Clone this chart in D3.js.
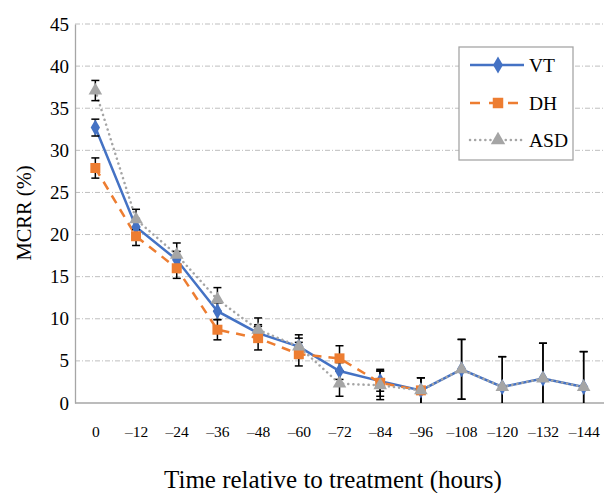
<!DOCTYPE html>
<html>
<head>
<meta charset="utf-8">
<script src="https://cdn.jsdelivr.net/npm/d3@7"></script>
<style>
  body { margin: 0; background: #fff; }
  text { font-family: "Liberation Serif", "DejaVu Serif", serif; fill: #000; }
</style>
</head>
<body>
<div id="chart"></div>
<script>
var categories = ["0","–12","–24","–36","–48","–60","–72","–84","–96","–108","–120","–132","–144"];
var series = ["VT","DH","ASD"];

var vt    = [32.7, 20.9, 17.0, 10.9, 8.3, 6.7, 3.8, 2.6, 1.5, 4.0, 1.9, 2.9, 1.9];
var vtErr = [1.0, 1.0, 1.0, 1.0, 1.0, 1.0, 1.0, 1.2, 1.5, 3.55, 3.6, 4.2, 4.2];
var dh    = [27.9, 19.8, 16.0, 8.7, 7.7, 5.8, 5.3, 2.4, 1.5];
var dhErr = [1.2, 1.1, 1.2, 1.2, 1.4, 1.4, 1.5, 1.6, 1.5];
var asd   = [37.1, 21.8, 17.6, 12.3, 8.7, 6.7, 2.3, 2.1, 1.5, 4.0, 1.9, 2.9, 1.9];
var asdErr = [1.2, 1.2, 1.4, 1.4, 1.4, 1.4, 1.5, 1.7, 1.5, 3.55, 3.6, 4.2, 4.2];

var yTicks = [0, 5, 10, 15, 20, 25, 30, 35, 40, 45];

var width = 604, height = 493;
var plotLeft = 75, plotRight = 604, plotTop = 24, plotBottom = 403;

var svg = d3.select("#chart").append("svg")
    .attr("width", width)
    .attr("height", height)

var x = d3.scalePoint().domain(categories).range([plotLeft, plotRight]).padding(0.5)
var y = d3.scaleLinear().domain([0, 45]).range([plotBottom, plotTop])

var color = d3.scaleOrdinal().domain(series).range(["#4472C4","#ED7D31","#A5A5A5"])

// gridlines
svg.selectAll(".grid")
    .data(yTicks.filter(function(d){ return d > 0 }))
    .enter()
    .append("line")
    .attr("x1", plotLeft)
    .attr("x2", plotRight)
    .attr("y1", function(d){ return y(d) })
    .attr("y2", function(d){ return y(d) })
    .style("stroke", "#bfbfbf")
    .style("stroke-width", 1)
    .style("stroke-dasharray", "5,2,1,2")

// axes
var yAxis = svg.append("g")
    .attr("transform", "translate(" + plotLeft + ",0)")
    .call(d3.axisLeft(y).tickValues(yTicks).tickSize(0).tickPadding(6))
yAxis.select(".domain").style("stroke", "#a6a6a6").style("stroke-width", 1.3)
yAxis.selectAll("text").style("font-size", "19px")

var xAxis = svg.append("g")
    .attr("transform", "translate(0," + plotBottom + ")")
    .call(d3.axisBottom(x).tickSize(0).tickPadding(23))
xAxis.select(".domain").remove()
xAxis.selectAll("text").style("font-size", "15.5px")

// series data
var data = [
  { name: "VT", values: vt, err: vtErr },
  { name: "DH", values: dh, err: dhErr },
  { name: "ASD", values: asd, err: asdErr }
]

var line = d3.line()
    .x(function(d, i){ return x(categories[i]) })
    .y(function(d){ return y(d) })

var dashes = { VT: null, DH: "9,7", ASD: "0.1,5" }

svg.selectAll(".series")
    .data(data)
    .enter()
    .append("path")
    .attr("d", function(d){ return line(d.values) })
    .style("fill", "none")
    .style("stroke", function(d){ return color(d.name) })
    .style("stroke-width", 2.5)
    .style("stroke-linecap", function(d){ return d.name == "ASD" ? "round" : "butt" })
    .style("stroke-dasharray", function(d){ return dashes[d.name] })

// x axis line drawn after the lines
svg.append("line")
    .attr("x1", plotLeft).attr("x2", plotRight)
    .attr("y1", plotBottom).attr("y2", plotBottom)
    .style("stroke", "#a6a6a6")
    .style("stroke-width", 1.3)

// error bars
data.forEach(function(s){
  var g = svg.append("g")
  s.values.forEach(function(v, i){
    var cx = x(categories[i])
    var hi = y(v + s.err[i])
    var lo = y(Math.max(0, v - s.err[i]))
    g.append("line").attr("x1", cx).attr("x2", cx).attr("y1", hi).attr("y2", lo)
      .style("stroke", "#000").style("stroke-width", 1.5)
    g.append("line").attr("x1", cx - 4).attr("x2", cx + 4).attr("y1", hi).attr("y2", hi)
      .style("stroke", "#000").style("stroke-width", 1.5)
    if (v - s.err[i] > 0) {
      g.append("line").attr("x1", cx - 4).attr("x2", cx + 4).attr("y1", lo).attr("y2", lo)
        .style("stroke", "#000").style("stroke-width", 1.5)
    }
  })
})

// markers
var symbols = { VT: d3.symbolDiamond, DH: d3.symbolSquare, ASD: d3.symbolTriangle }
var sizes = { VT: 75, DH: 100, ASD: 80 }

data.forEach(function(s){
  svg.selectAll(".m" + s.name)
      .data(s.values)
      .enter()
      .append("path")
      .attr("d", d3.symbol().type(symbols[s.name]).size(sizes[s.name]))
      .attr("transform", function(d, i){ return "translate(" + x(categories[i]) + "," + y(d) + ")" })
      .style("fill", color(s.name))
})

// legend
var legend = svg.append("g")
legend.append("rect")
    .attr("x", 459).attr("y", 47)
    .attr("width", 114).attr("height", 113)
    .style("fill", "#fff")
    .style("stroke", "#a6a6a6")
    .style("stroke-width", 1.3)

var legendY = [65, 103, 140]

legend.selectAll(".lline")
    .data(series)
    .enter()
    .append("line")
    .attr("x1", 470).attr("x2", 524)
    .attr("y1", function(d, i){ return legendY[i] })
    .attr("y2", function(d, i){ return legendY[i] })
    .style("stroke", function(d){ return color(d) })
    .style("stroke-width", 2.5)
    .style("stroke-linecap", function(d){ return d == "ASD" ? "round" : "butt" })
    .style("stroke-dasharray", function(d){ return d == "DH" ? "10,9" : dashes[d] })

legend.selectAll(".lmark")
    .data(series)
    .enter()
    .append("path")
    .attr("d", function(d){ return d3.symbol().type(symbols[d]).size(sizes[d] + 10)() })
    .attr("transform", function(d, i){ return "translate(498," + legendY[i] + ")" })
    .style("fill", function(d){ return color(d) })

legend.selectAll(".ltext")
    .data(series)
    .enter()
    .append("text")
    .attr("x", 529)
    .attr("y", function(d, i){ return legendY[i] })
    .attr("dy", "0.35em")
    .style("font-size", "19.5px")
    .text(function(d){ return d })

// axis titles
svg.append("text")
    .attr("x", 333)
    .attr("y", 488)
    .attr("text-anchor", "middle")
    .style("font-size", "25px")
    .text("Time relative to treatment (hours)")

svg.append("text")
    .attr("transform", "translate(31,213) rotate(-90)")
    .attr("text-anchor", "middle")
    .style("font-size", "20.5px")
    .text("MCRR (%)")
</script>
</body>
</html>
